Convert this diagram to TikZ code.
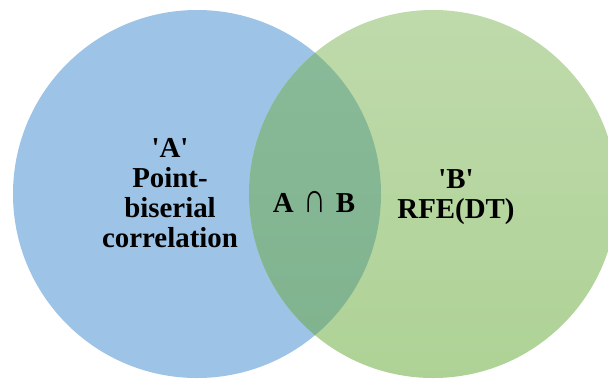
\documentclass[tikz,border=0pt]{standalone}
\usepackage{fontspec}
\usepackage{graphicx}
\setmainfont{Liberation Serif}
\definecolor{blueA}{HTML}{9DC3E6}
\definecolor{greenTop}{HTML}{BFDAAB}
\definecolor{greenBot}{HTML}{AED296}
\definecolor{midTop}{HTML}{8ABB9A}
\definecolor{midBot}{HTML}{7FB28D}
\newcommand{\qt}{\textquotesingle}
\tikzset{
  setcircle/.style={circle, minimum size=368bp, inner sep=0pt},
  label/.style={font=\fontsize{29}{30}\selectfont\bfseries, align=center, inner sep=0pt, text=black}
}
\begin{document}
\begin{tikzpicture}[x=1bp,y=-1bp]
\useasboundingbox (0,0) rectangle (608,379);
\clip (0,0) rectangle (608,379);
\node[setcircle, fill=blueA] (A) at (197,194) {};
\node[setcircle, top color=greenTop, bottom color=greenBot] (B) at (433,194) {};
\begin{scope}
  \clip (197,194) circle[radius=184bp];
  \shade[top color=midTop, bottom color=midBot] (433,194) circle[radius=184bp];
\end{scope}
\node[label, anchor=base] (ta) at (170,247) {\qt A\qt\\Point-\\biserial\\correlation};
\node[label, anchor=base] (tab) at (314,212) {A\hspace{0.33em}{\mdseries\scalebox{1.1}[1.45]{∩}}\hspace{0.33em}B};
\node[label, anchor=base] (tb) at (456,218) {\qt B\qt\\RFE(DT)};
\end{tikzpicture}
\end{document}
